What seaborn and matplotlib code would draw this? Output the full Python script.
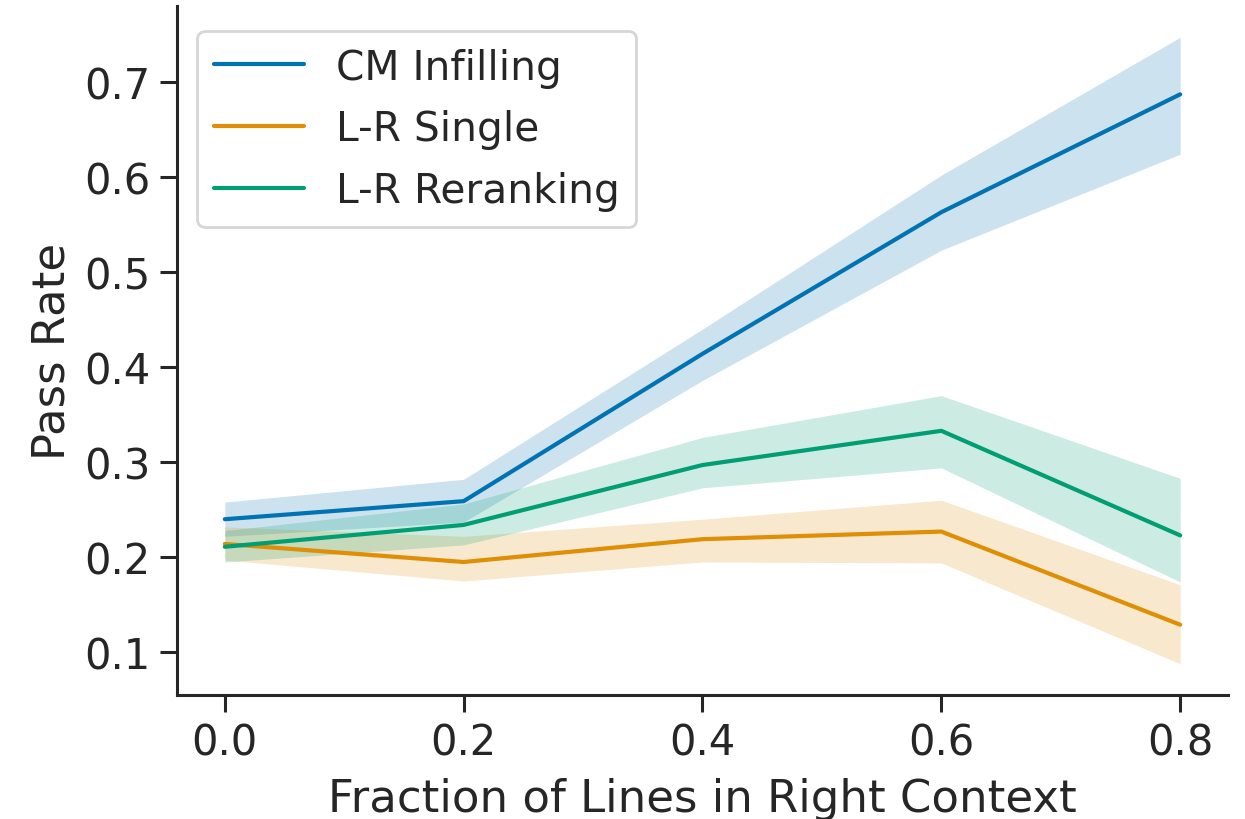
import matplotlib
matplotlib.use("Agg")
import matplotlib.pyplot as plt
import seaborn as sns
import pandas as pd

sns.set_theme(style="ticks", palette="colorblind")
plt.rcParams['font.family'] = ['DejaVu Sans']

# fraction of lines moved to the right context
fractions = [0.0, 0.2, 0.4, 0.6, 0.8]

cm_mean = [0.240, 0.259, 0.414, 0.563, 0.687]
cm_lo   = [0.222, 0.237, 0.386, 0.523, 0.624]
cm_hi   = [0.258, 0.282, 0.440, 0.602, 0.747]

single_mean = [0.214, 0.195, 0.219, 0.227, 0.129]
single_lo   = [0.197, 0.175, 0.195, 0.194, 0.088]
single_hi   = [0.232, 0.222, 0.240, 0.260, 0.171]

rerank_mean = [0.211, 0.234, 0.297, 0.333, 0.223]
rerank_lo   = [0.195, 0.213, 0.273, 0.294, 0.174]
rerank_hi   = [0.228, 0.256, 0.326, 0.370, 0.283]

series = {
    "CM Infilling": (cm_mean, cm_lo, cm_hi),
    "L-R Single": (single_mean, single_lo, single_hi),
    "L-R Reranking": (rerank_mean, rerank_lo, rerank_hi),
}

rows = []
for name, (m, lo, hi) in series.items():
    for x, v, l, h in zip(fractions, m, lo, hi):
        rows.append({"frac": x, "rate": v, "lo": l, "hi": h, "method": name})
df = pd.DataFrame(rows)

colors = sns.color_palette("colorblind", 3)

fig = plt.figure(figsize=(6.225, 4.1), dpi=200)
ax = fig.add_axes([0.1422, 0.1512, 0.8441, 0.8403])

sns.lineplot(data=df, x="frac", y="rate", hue="method", palette=colors,
             linewidth=1.5, ax=ax)
for c, (name, g) in zip(colors, df.groupby("method", sort=False)):
    ax.fill_between(g["frac"], g["lo"], g["hi"], color=c, alpha=0.2, linewidth=0)

ax.set_xticks(fractions)
ax.set_yticks([0.1, 0.2, 0.3, 0.4, 0.5, 0.6, 0.7])
ax.tick_params(labelsize=15, length=6, width=1.1, color="#262626")
ax.set_xlabel("Fraction of Lines in Right Context", fontsize=16.2, labelpad=5)
ax.set_ylabel("Pass Rate", fontsize=16.2)
for s in ["left", "bottom"]:
    ax.spines[s].set_linewidth(1.1)
    ax.spines[s].set_color("#262626")
sns.despine(ax=ax)

leg = ax.legend(loc="upper left", bbox_to_anchor=(0.0, 0.993), fontsize=14.7,
                frameon=True, handlelength=2.2, borderaxespad=0.5,
                labelspacing=0.53)
leg.set_title(None)

fig.savefig("out.png", dpi=200)
